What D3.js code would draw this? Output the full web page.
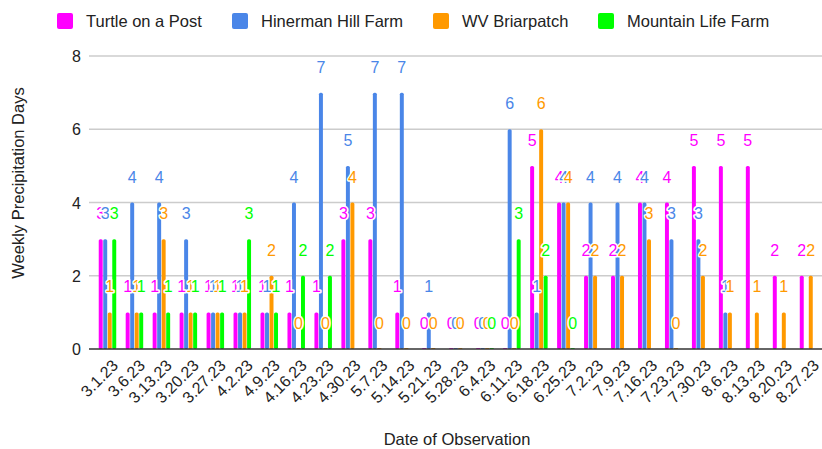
<!DOCTYPE html>
<html><head><meta charset="utf-8">
<script src="https://cdn.jsdelivr.net/npm/d3@7"></script>
<style>body{margin:0;background:#fff}svg{font-family:"Liberation Sans",Arial,sans-serif}</style>
</head><body><svg id="c" width="822" height="449"></svg>
<script>
const dates = ["3.1.23","3.6.23","3.13.23","3.20.23","3.27.23","4.2.23","4.9.23","4.16.23","4.23.23","4.30.23","5.7.23","5.14.23","5.21.23","5.28.23","6.4.23","6.11.23","6.18.23","6.25.23","7.2.23","7.9.23","7.16.23","7.23.23","7.30.23","8.6.23","8.13.23","8.20.23","8.27.23"];
const seriesNames = ["Turtle on a Post","Hinerman Hill Farm","WV Briarpatch","Mountain Life Farm"];
const colors = ["#ff00ff","#4a86e8","#ff9900","#00ff00"];
const turtle    = [3,1,1,1,1,1,1,1,1,3,3,1,0,0,0,0,5,4,2,2,4,4,5,5,5,2,2];
const hinerman  = [3,4,4,3,1,1,1,4,7,5,7,7,1,0,0,6,1,4,4,4,4,3,3,1,null,null,null];
const briarpatch= [1,1,3,1,1,1,2,0,0,4,0,0,0,0,0,0,6,4,2,2,3,0,2,1,1,1,2];
const mountain  = [3,1,1,1,1,3,1,2,2,null,null,null,null,null,0,3,2,0,null,null,null,null,null,null,null,null,null];
const yTicks = [0,2,4,6,8];
const series = [turtle,hinerman,briarpatch,mountain];

const svg = d3.select("#c");
const y = d3.scaleLinear().domain([0,8]).range([349,56]);
const x0 = d3.scaleBand().domain(dates).range([94,822]);
const GW = 17.5;
const x1 = d3.scaleBand().domain(d3.range(4)).range([0,GW]).paddingInner(0.12);
const bx = x0.bandwidth();
const off = (bx-GW)/2;

// gridlines
svg.append("g").selectAll("line").data(yTicks.slice(1)).join("line")
  .attr("x1",89).attr("x2",822).attr("y1",d=>y(d)).attr("y2",d=>y(d))
  .attr("stroke","#cccccc").attr("stroke-width",1.5);
// y labels
svg.append("g").selectAll("text").data(yTicks).join("text")
  .attr("x",81).attr("y",d=>y(d)+6).attr("text-anchor","end")
  .attr("font-size",16).attr("fill","#222").text(d=>d);

// bars
series.forEach((s,si)=>{
  svg.append("g").selectAll("rect").data(dates.map((d,i)=>({d,v:s[i]})).filter(o=>o.v!==null)).join("rect")
    .attr("x",o=>x0(o.d)+off+x1(si)).attr("width",x1.bandwidth())
    .attr("y",o=>o.v===0? y(0)-1 : y(o.v)).attr("height",o=>o.v===0?1:y(0)-y(o.v))
    .attr("rx",o=>o.v===0?0:1.6).attr("fill",colors[si]);
});
// baseline
svg.append("line").attr("x1",89).attr("x2",822).attr("y1",349).attr("y2",349).attr("stroke","#333").attr("stroke-width",1.5);

// labels
const lab = svg.append("g");
dates.forEach((d,i)=>{
  series.forEach((s,si)=>{
    const v=s[i]; if(v===null) return;
    lab.append("text").attr("x",x0(d)+off+x1(si)+x1.bandwidth()/2).attr("y",y(v)-20)
      .attr("text-anchor","middle").attr("font-size",16).attr("fill",colors[si])
      .attr("stroke","#fff").attr("stroke-width",3).attr("paint-order","stroke").attr("stroke-linejoin","round")
      .text(v);
  });
});

// x labels
svg.append("g").selectAll("text").data(dates).join("text")
  .attr("transform",d=>`translate(${x0(d)+bx/2+3},${358}) rotate(-45)`)
  .attr("text-anchor","end").attr("font-size",16).attr("fill","#222").attr("dy","0.75em").text(d=>d);

// axis titles
svg.append("text").attr("x",457).attr("y",445).attr("text-anchor","middle").attr("font-size",16.5).attr("fill","#222").text("Date of Observation");
svg.append("text").attr("transform","translate(24,183) rotate(-90)").attr("text-anchor","middle").attr("font-size",16.5).attr("fill","#222").text("Weekly Precipitation Days");

// legend
const legX=[57,232,433,598];
const lg = svg.append("g");
seriesNames.forEach((n,i)=>{
  lg.append("rect").attr("x",legX[i]).attr("y",13).attr("width",16).attr("height",16).attr("rx",2).attr("fill",colors[i]);
  lg.append("text").attr("x",legX[i]+29).attr("y",27).attr("font-size",16.5).attr("fill","#222").text(n);
});
</script></body></html>
